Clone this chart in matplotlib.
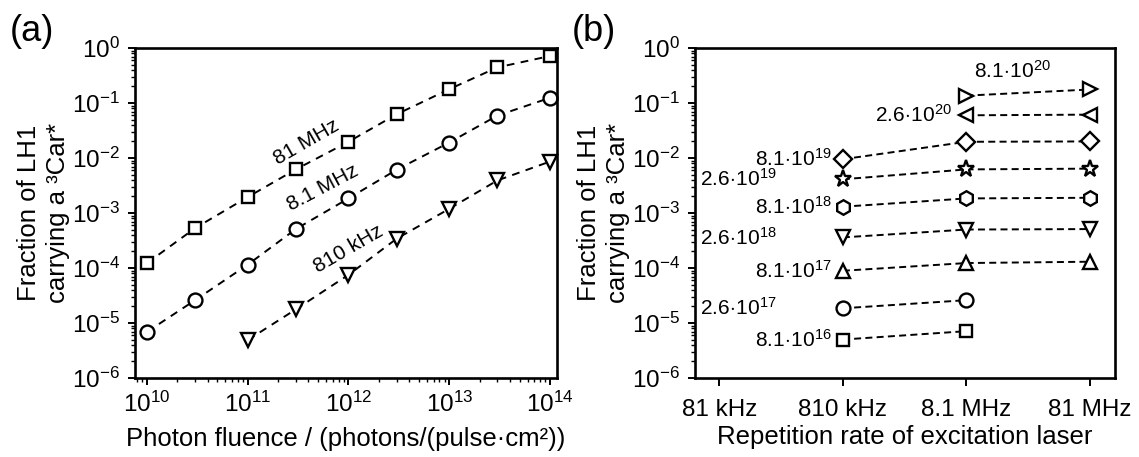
import numpy as np
import matplotlib
matplotlib.use("Agg")
import matplotlib.pyplot as plt
from matplotlib.ticker import LogLocator, NullFormatter, NullLocator

plt.rcParams['font.family'] = ['Liberation Sans', 'DejaVu Sans']
plt.rcParams['mathtext.fontset'] = 'custom'
plt.rcParams['mathtext.rm'] = 'Liberation Sans'
plt.rcParams['mathtext.it'] = 'Liberation Sans:italic'
plt.rcParams['mathtext.bf'] = 'Liberation Sans:bold'
plt.rcParams['axes.unicode_minus'] = False

nan = np.nan

# ---- panel (a): fraction vs photon fluence
fluence = [1e10, 3e10, 1e11, 3e11, 1e12, 3e12, 1e13, 3e13, 1e14]
frac_81MHz = [1.23e-4, 5.3e-4, 1.95e-3, 6.2e-3, 0.0197, 0.0622, 0.178, 0.443, 0.714]
frac_8MHz = [6.9e-6, 2.6e-5, 1.15e-4, 5.1e-4, 1.84e-3, 6.1e-3, 0.0191, 0.0588, 0.124]
frac_810kHz = [nan, nan, 4.9e-6, 1.77e-5, 7.5e-5, 3.4e-4, 1.19e-3, 3.9e-3, 8.6e-3]

# ---- panel (b): fraction vs repetition rate
rep_rates = [8.1e4, 8.1e5, 8.1e6, 8.1e7]
rep_labels = ["81 kHz", "810 kHz", "8.1 MHz", "81 MHz"]
b_rates = [8.1e5, 8.1e6, 8.1e7]
b_series = {
    "8.1e16": [5.0e-6, 7.1e-6, nan],
    "2.6e17": [1.85e-5, 2.6e-5, nan],
    "8.1e17": [8.9e-5, 1.23e-4, 1.30e-4],
    "2.6e18": [3.6e-4, 5.0e-4, 5.1e-4],
    "8.1e18": [1.30e-3, 1.84e-3, 1.89e-3],
    "2.6e19": [4.1e-3, 6.2e-3, 6.4e-3],
    "8.1e19": [9.5e-3, 0.0197, 0.0200],
    "2.6e20": [nan, 0.0597, 0.0614],
    "8.1e20": [nan, 0.136, 0.176],
}
b_markers = {"8.1e16": ('s', 9), "2.6e17": ('o', 10), "8.1e17": ('^', 10.5),
             "2.6e18": ('v', 10.5), "8.1e18": ('h', 10.5), "2.6e19": ('*', 12.5),
             "8.1e19": ('D', 9.5), "2.6e20": ('<', 10.5), "8.1e20": ('>', 10.5)}
b_text = {k: r"$%s\!\cdot\!10^{%s}$" % (k.split('e')[0], k.split('e')[1]) for k in b_series}

fig = plt.figure(figsize=(11.39, 4.57), dpi=100)
ax1 = fig.add_axes([0.1185, 0.1729, 0.3705, 0.7221])
ax2 = fig.add_axes([0.6102, 0.1729, 0.3687, 0.7221])

fs_tick = 17.5
fs_lab = 18.5
mk = dict(mfc='white', mec='black', mew=1.7, color='black', lw=1.4, clip_on=False)

ax1.plot(fluence, frac_81MHz, marker='s', ms=9, dashes=(4, 3.3), **mk)
ax1.plot(fluence, frac_8MHz, marker='o', ms=10, dashes=(4, 3.3), **mk)
ax1.plot(fluence, frac_810kHz, marker='v', ms=10.5, dashes=(4, 3.3), **mk)
ax1.text(3.8e11, 1.9e-2, "81 MHz", rotation=30, fontsize=15, ha='center', va='center', rotation_mode='anchor')
ax1.text(5.5e11, 2.9e-3, "8.1 MHz", rotation=28, fontsize=15, ha='center', va='center', rotation_mode='anchor')
ax1.text(1.0e12, 2.2e-4, "810 kHz", rotation=30, fontsize=15, ha='center', va='center', rotation_mode='anchor')

ax1.set_xscale('log')
ax1.set_yscale('log')
ax1.set_xlim(10**9.88, 10**14.07)
ax1.set_ylim(1e-6, 1)
ax1.set_xlabel("Photon fluence / (photons/(pulse·cm²))", fontsize=fs_lab, labelpad=7)

for key, vals in b_series.items():
    m, s = b_markers[key]
    ax2.plot(b_rates, vals, marker=m, ms=s, dashes=(3.6, 2.2), **mk)
    first = next(i for i, v in enumerate(vals) if not np.isnan(v))
    xy = (b_rates[first], vals[first])
    if key == "8.1e20":
        off, ha = (46, 25), 'center'
    elif key == "2.6e20":
        off, ha = (-14, 0), 'right'
    elif key.startswith("8.1"):
        off, ha = (-11, 0), 'right'
    else:
        off, ha = (-66, 0), 'right'
    ax2.annotate(b_text[key], xy, xytext=off, textcoords='offset pixels',
                 ha=ha, va='center', fontsize=15)

ax2.set_xscale('log')
ax2.set_yscale('log')
ax2.set_xlim(10**(np.log10(8.1e4) - 0.197), 10**(np.log10(8.1e7) + 0.203))
ax2.set_ylim(1e-6, 1)
ax2.set_xticks(rep_rates)
ax2.set_xticklabels(rep_labels)
ax2.xaxis.set_minor_locator(NullLocator())
ax2.set_xlabel("Repetition rate of excitation laser", fontsize=fs_lab, labelpad=3)

for ax in (ax1, ax2):
    ax.yaxis.set_major_locator(LogLocator(base=10, numticks=20))
    ax.yaxis.set_minor_locator(LogLocator(base=10, subs=np.arange(2, 10), numticks=100))
    ax.yaxis.set_minor_formatter(NullFormatter())
    for sp in ax.spines.values():
        sp.set_linewidth(1.9)
    ax.tick_params(which='major', direction='out', length=5, width=1.4, labelsize=fs_tick, top=False, right=False)
    ax.tick_params(which='minor', direction='out', length=3, width=1.0, top=False, right=False)
    ax.tick_params(axis='y', which='major', pad=6)
    ax.set_ylabel("Fraction of LH1\ncarrying a ³Car*", fontsize=fs_lab, linespacing=1.25)
    ax.yaxis.set_label_coords(-0.155, 0.5)

ax1.xaxis.set_major_locator(LogLocator(base=10, numticks=20))
ax1.xaxis.set_minor_locator(LogLocator(base=10, subs=np.arange(2, 10), numticks=100))
ax1.xaxis.set_minor_formatter(NullFormatter())
ax1.tick_params(axis='x', which='major', pad=5)
ax2.tick_params(axis='x', which='major', length=6, pad=9)

fig.text(0.0088, 0.931, "(a)", fontsize=26, va='center', ha='left')
fig.text(0.502, 0.931, "(b)", fontsize=26, va='center', ha='left')

fig.savefig("out.png", dpi=100)
